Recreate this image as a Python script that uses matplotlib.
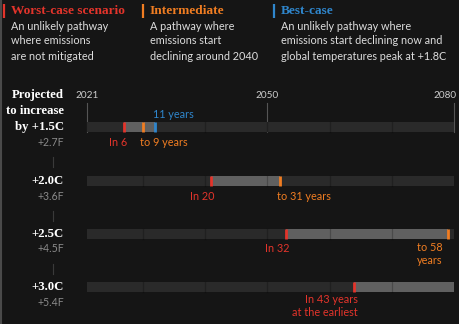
import matplotlib.pyplot as plt

# thresholds and years until each pathway crosses them (counted from 2021)
thresholds = ["+1.5C", "+2.0C", "+2.5C", "+3.0C"]
fahrenheit = ["+2.7F", "+3.6F", "+4.5F", "+5.4F"]
worst = [6, 20, 32, 43]
intermediate = [9, 31, 58, None]
best = [11, None, None, None]

start_year = 2021
end_year = 2080
grid_years = [2030, 2040, 2050, 2060, 2070]
axis_years = [2021, 2050, 2080]

scenarios = ["Worst-case scenario", "Intermediate", "Best-case"]
descriptions = [
    "An unlikely pathway\nwhere emissions\nare not mitigated",
    "A pathway where\nemissions start\ndeclining around 2040",
    "An unlikely pathway where\nemissions start declining now and\nglobal temperatures peak at +1.8C",
]

BG = "#151515"
RED = "#e3342b"
ORANGE = "#f07d22"
BLUE = "#2f86cc"
BAR = "#2a2a2a"
FILL = "#606060"
SERIF = "Liberation Serif"
SANS = "Lato"

W, H = 460, 324
fig = plt.figure(figsize=(W / 100, H / 100), dpi=100, facecolor=BG)
ax = fig.add_axes([0, 0, 1, 1])
ax.set_facecolor(BG)
ax.axis("off")

# x in years, y in pixel rows from the top
x0, x1 = 87, 454
ppy = (x1 - x0) / (end_year - start_year)
ax.set_xlim(start_year - x0 / ppy, start_year + (W - x0) / ppy)
ax.set_ylim(H, 0)

def px(x):
    return start_year - x0 / ppy + x / ppy

# left border
ax.axvline(px(0.8), color="#4a4a4a", lw=1.5)

# header
head_x = [4, 143, 274]
for hx, name, desc, col in zip(head_x, scenarios, descriptions, [RED, ORANGE, BLUE]):
    ax.plot([px(hx), px(hx)], [4, 18], color=col, lw=1.6, solid_capstyle="butt")
    ax.text(px(hx + 7), 11, name, color=col, fontsize=9.6, fontweight="bold",
            family=SERIF, va="center", ha="left")
    for k, line in enumerate(desc.split("\n")):
        ax.text(px(hx + 7), 26 + 15 * k, line, color="#dddddd", fontsize=7.8,
                family=SANS, va="center", ha="left")

# year labels and their tick lines
for yr in axis_years:
    ha = "center" if yr != end_year else "right"
    xt = yr if yr != end_year else yr + 0.4
    ax.text(xt, 95, str(yr), color="#cccccc", fontsize=7.2, family=SANS,
            ha=ha, va="center")
    ax.plot([yr, yr], [103, 132], color="#555555", lw=0.8)

row_y = [127, 181, 234, 287]
bar_h = 10

for i, yc in enumerate(row_y):
    ax.barh(yc, end_year - start_year, left=start_year, height=bar_h, color=BAR, zorder=2)
    w = worst[i]
    stop = best[i] or intermediate[i] or (end_year - start_year)
    ax.barh(yc, stop - w, left=start_year + w, height=bar_h, color=FILL, zorder=3)
    for g in grid_years:
        ax.plot([g, g], [yc - bar_h / 2, yc + bar_h / 2], color="black", alpha=0.22,
                lw=0.9, zorder=4)
    for val, col in [(worst[i], RED), (intermediate[i], ORANGE), (best[i], BLUE)]:
        if val is not None:
            ax.plot([start_year + val] * 2, [yc - bar_h / 2, yc + bar_h / 2],
                    color=col, lw=2, zorder=5, solid_capstyle="butt")

    # threshold labels on the left
    if i == 0:
        for k, line in enumerate(["Projected", "to increase", "by " + thresholds[i]]):
            ax.text(px(64), yc - 16 * (2 - k), line, color="white", fontsize=9.2,
                    fontweight="bold", family=SERIF, ha="right", va="center")
    else:
        ax.text(px(64), yc, thresholds[i], color="white", fontsize=9.2,
                fontweight="bold", family=SERIF, ha="right", va="center")
    ax.text(px(64), yc + 15, fahrenheit[i], color="#8a8a8a", fontsize=7.6,
            family=SANS, ha="right", va="center")
    if i < 3:
        ax.plot([px(53), px(53)], [yc + 30, yc + 40], color="#3a3a3a", lw=0.8)

lab = dict(fontsize=7.8, family=SANS, va="center")

# +1.5C labels
ax.text(start_year + best[0] - 0.4, 115, f"{best[0]} years", color=BLUE, ha="left", **lab)
ax.text(start_year + worst[0] + 0.5, 142, f"In {worst[0]}", color=RED, ha="right", **lab)
ax.text(start_year + intermediate[0] - 0.4, 142, f"to {intermediate[0]} years",
        color=ORANGE, ha="left", **lab)

# +2.0C labels
ax.text(start_year + worst[1] + 0.5, 196, f"In {worst[1]}", color=RED, ha="right", **lab)
ax.text(start_year + intermediate[1] - 0.4, 196, f"to {intermediate[1]} years",
        color=ORANGE, ha="left", **lab)

# +2.5C labels
ax.text(start_year + worst[2] + 0.6, 248, f"In {worst[2]}", color=RED, ha="right", **lab)
ax.text(start_year + intermediate[2] - 0.8, 254, f"to {intermediate[2]}\nyears",
        color=ORANGE, ha="right", linespacing=1.25, **lab)

# +3.0C labels
ax.text(start_year + worst[3] + 0.5, 306, f"In {worst[3]} years\nat the earliest",
        color=RED, ha="right", linespacing=1.25, **lab)

fig.savefig("out.png", dpi=100, facecolor=BG)
